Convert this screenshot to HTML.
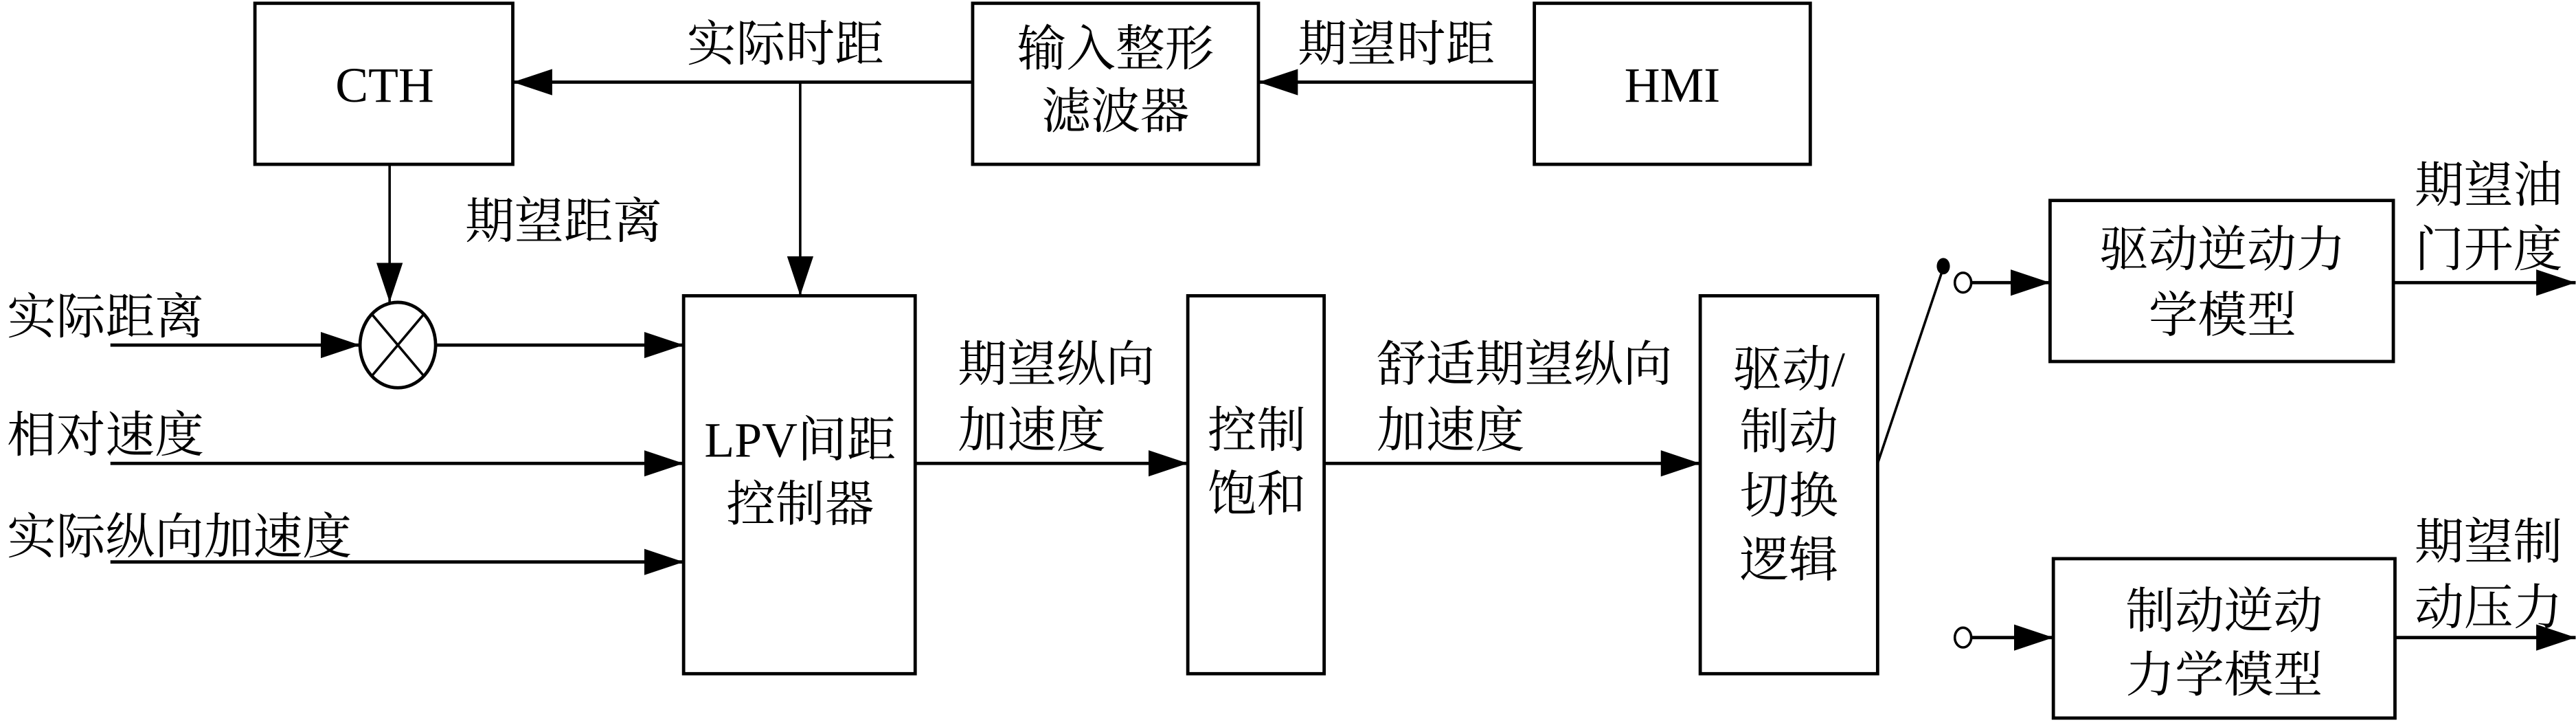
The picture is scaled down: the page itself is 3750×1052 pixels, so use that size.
<!DOCTYPE html>
<html><head><meta charset="utf-8"><style>
html,body{margin:0;padding:0;background:#fff;}
svg{display:block;}
text{font-family:"Liberation Serif","Noto Serif CJK SC",serif;font-size:30px;fill:#000;}
</style></head><body>
<svg width="3750" height="1052" viewBox="0 0 1568 440" xmlns="http://www.w3.org/2000/svg">
<defs>
<marker id="a" markerWidth="24" markerHeight="16" refX="24" refY="8" orient="auto" markerUnits="userSpaceOnUse">
<path d="M0,0 L24,8 L0,16 Z" fill="#000"/></marker>
</defs>
<g fill="none" stroke="#000" stroke-width="2">
<rect x="155" y="2" width="157" height="98"/>
<rect x="592" y="2" width="174" height="98"/>
<rect x="934" y="2" width="168" height="98"/>
<rect x="416" y="180" width="141" height="230"/>
<rect x="723" y="180" width="83" height="230"/>
<rect x="1035" y="180" width="108" height="230"/>
<rect x="1248" y="122" width="209" height="98"/>
<rect x="1250" y="340" width="208" height="97"/>
<ellipse cx="242" cy="210" rx="23" ry="26"/>
<line x1="226" y1="191" x2="258" y2="229" stroke-width="1.5"/>
<line x1="258" y1="191" x2="226" y2="229" stroke-width="1.5"/>
</g>
<g stroke="#000" stroke-width="2" fill="none">
<line x1="934" y1="50" x2="766" y2="50" marker-end="url(#a)"/>
<line x1="592" y1="50" x2="312" y2="50" marker-end="url(#a)"/>
<line x1="487" y1="50" x2="487" y2="180" marker-end="url(#a)" stroke-width="1.5"/>
<line x1="237" y1="100" x2="237" y2="184" marker-end="url(#a)" stroke-width="1.5"/>
<line x1="67" y1="210" x2="219" y2="210" marker-end="url(#a)"/>
<line x1="265" y1="210" x2="416" y2="210" marker-end="url(#a)"/>
<line x1="67" y1="282" x2="416" y2="282" marker-end="url(#a)"/>
<line x1="67" y1="342" x2="416" y2="342" marker-end="url(#a)"/>
<line x1="557" y1="282" x2="723" y2="282" marker-end="url(#a)"/>
<line x1="806" y1="282" x2="1035" y2="282" marker-end="url(#a)"/>
<line x1="1143" y1="282" x2="1183" y2="163" stroke-width="1.5"/>
<line x1="1200" y1="172" x2="1248" y2="172" marker-end="url(#a)"/>
<line x1="1200" y1="388" x2="1250" y2="388" marker-end="url(#a)"/>
<line x1="1457" y1="172" x2="1568" y2="172" marker-end="url(#a)"/>
<line x1="1458" y1="388" x2="1568" y2="388" marker-end="url(#a)"/>
</g>
<ellipse cx="1183" cy="162" rx="4" ry="5" fill="#000"/>
<ellipse cx="1195" cy="172" rx="5" ry="6" fill="#fff" stroke="#000" stroke-width="1.5"/>
<ellipse cx="1195" cy="388" rx="5" ry="6" fill="#fff" stroke="#000" stroke-width="1.5"/>
<g text-anchor="middle">
<text x="234" y="62">CTH</text>
<text x="679" y="40">输入整形</text>
<text x="679" y="78">滤波器</text>
<text x="1018" y="62">HMI</text>
<text x="487" y="278">LPV间距</text>
<text x="487" y="317">控制器</text>
<text x="765" y="272">控制</text>
<text x="765" y="311">饱和</text>
<text x="1089" y="235">驱动/</text>
<text x="1089" y="273">制动</text>
<text x="1089" y="312">切换</text>
<text x="1089" y="351">逻辑</text>
<text x="1353" y="162">驱动逆动力</text>
<text x="1353" y="202">学模型</text>
<text x="1354" y="382">制动逆动</text>
<text x="1354" y="421">力学模型</text>
</g>
<text x="418" y="37">实际时距</text>
<text x="790" y="37">期望时距</text>
<text x="283" y="145">期望距离</text>
<text x="4" y="203">实际距离</text>
<text x="4" y="275">相对速度</text>
<text x="4" y="337">实际纵向加速度</text>
<text x="583" y="232">期望纵向</text>
<text x="583" y="272">加速度</text>
<text x="838" y="232">舒适期望纵向</text>
<text x="838" y="272">加速度</text>
<text x="1470" y="123">期望油</text>
<text x="1470" y="162">门开度</text>
<text x="1470" y="340">期望制</text>
<text x="1470" y="380">动压力</text>
</svg>
</body></html>
